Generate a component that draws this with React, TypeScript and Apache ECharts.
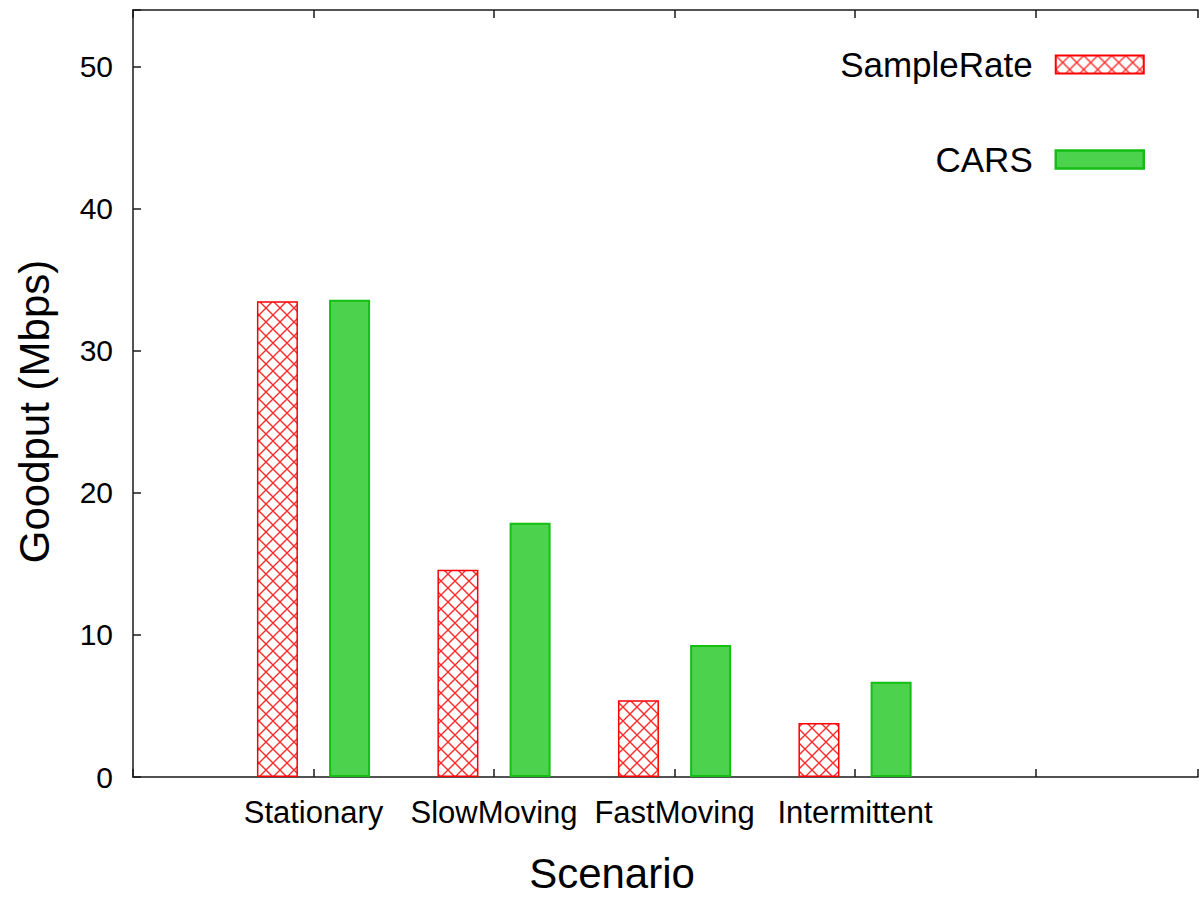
import React, { useEffect, useRef } from "react";
import * as echarts from "echarts";

const categories = ["Stationary", "SlowMoving", "FastMoving", "Intermittent"];
const sampleRate = [33.5, 14.6, 5.4, 3.8];
const cars = [33.6, 17.9, 9.3, 6.7];
const seriesNames = ["SampleRate", "CARS"];
const yTicks = [0, 10, 20, 30, 40, 50];

const FONT = "'Liberation Sans', Arial, Helvetica, sans-serif";

function makeHatch(): string {
  const c = document.createElement("canvas");
  c.width = 14;
  c.height = 14;
  const ctx = c.getContext("2d")!;
  ctx.fillStyle = "#ffffff";
  ctx.fillRect(0, 0, 14, 14);
  ctx.strokeStyle = "#ff2a2a";
  ctx.lineWidth = 1.4;
  ctx.beginPath();
  ctx.moveTo(-1, -1);
  ctx.lineTo(15, 15);
  ctx.moveTo(15, -1);
  ctx.lineTo(-1, 15);
  ctx.stroke();
  return c.toDataURL();
}

export default function App() {
  const ref = useRef<HTMLDivElement>(null);
  useEffect(() => {
    if (!ref.current) return;
    const chart = echarts.init(ref.current, undefined, { renderer: "svg" });
    const hatch = { image: makeHatch(), repeat: "repeat", imageWidth: 14, imageHeight: 14 };
    const axisColor = "#1a1a1a";
    const option: any = {
      animation: false,
      backgroundColor: "#ffffff",
      textStyle: { fontFamily: FONT },
      grid: { left: 133, right: 0, top: 10, bottom: 118 },
      legend: {
        orient: "vertical",
        align: "right",
        right: 56,
        top: 47,
        padding: 0,
        itemGap: 60,
        itemWidth: 88,
        itemHeight: 18,
        icon: "rect",
        textStyle: { fontSize: 35, color: "#000", fontFamily: FONT, padding: [0, 18, 0, 0] },
        data: [
          { name: seriesNames[0], itemStyle: { color: hatch, borderColor: "#ff0000", borderWidth: 2 } },
          { name: seriesNames[1], itemStyle: { color: "#4dd24d", borderColor: "#12bf12", borderWidth: 2.5 } },
        ],
      },
      xAxis: [
        {
          type: "value",
          position: "bottom",
          min: -1,
          max: 4.9,
          interval: 1,
          splitLine: { show: false },
          axisLine: { show: true, onZero: false, lineStyle: { color: axisColor, width: 1.5 } },
          axisTick: { show: true, inside: true, length: 8, lineStyle: { color: axisColor, width: 1.5 } },
          axisLabel: {
            margin: 20,
            fontSize: 31,
            color: "#000",
            fontFamily: FONT,
            formatter: (v: number) => (Number.isInteger(v) && v >= 0 && v < categories.length ? categories[v] : ""),
          },
          name: "Scenario",
          nameLocation: "middle",
          nameGap: 75,
          nameTextStyle: { fontSize: 42, color: "#000", fontFamily: FONT, padding: [0, 107, 0, 0] },
        },
        {
          type: "value",
          position: "top",
          min: -1,
          max: 4.9,
          interval: 1,
          splitLine: { show: false },
          axisLine: { show: true, onZero: false, lineStyle: { color: axisColor, width: 1.5 } },
          axisTick: { show: true, inside: true, length: 8, lineStyle: { color: axisColor, width: 1.5 } },
          axisLabel: { show: false },
        },
      ],
      yAxis: {
        type: "value",
        position: "left",
        min: 0,
        max: 54,
        interval: 10,
        splitLine: { show: false },
        axisLine: { show: true, onZero: false, lineStyle: { color: axisColor, width: 1.5 } },
        axisTick: { show: true, inside: true, length: 8, lineStyle: { color: axisColor, width: 1.5 } },
        axisLabel: {
          margin: 20,
          fontSize: 30,
          color: "#000",
          fontFamily: FONT,
          formatter: (v: number) => (yTicks.includes(v) ? String(v) : ""),
        },
        name: "Goodput (Mbps)",
        nameLocation: "middle",
        nameGap: 78,
        nameTextStyle: { fontSize: 42, color: "#000", fontFamily: FONT, padding: [0, 36, 0, 0] },
      },
      series: [
        {
          name: seriesNames[0],
          type: "bar",
          xAxisIndex: 0,
          barWidth: 41,
          barGap: "76%",
          data: sampleRate.map((v, i) => [i, v]),
          itemStyle: { color: hatch, borderColor: "#ff0000", borderWidth: 1.5 },
        },
        {
          name: seriesNames[1],
          type: "bar",
          xAxisIndex: 0,
          barWidth: 41,
          barGap: "76%",
          data: cars.map((v, i) => [i, v]),
          itemStyle: { color: "#4dd24d", borderColor: "#12bf12", borderWidth: 2 },
        },
      ],
    };
    chart.setOption(option);
    return () => chart.dispose();
  }, []);
  return (
    <div
      ref={ref}
      style={{ position: "absolute", left: 0, top: 0, width: 1201, height: 899, background: "#fff" }}
    />
  );
}
